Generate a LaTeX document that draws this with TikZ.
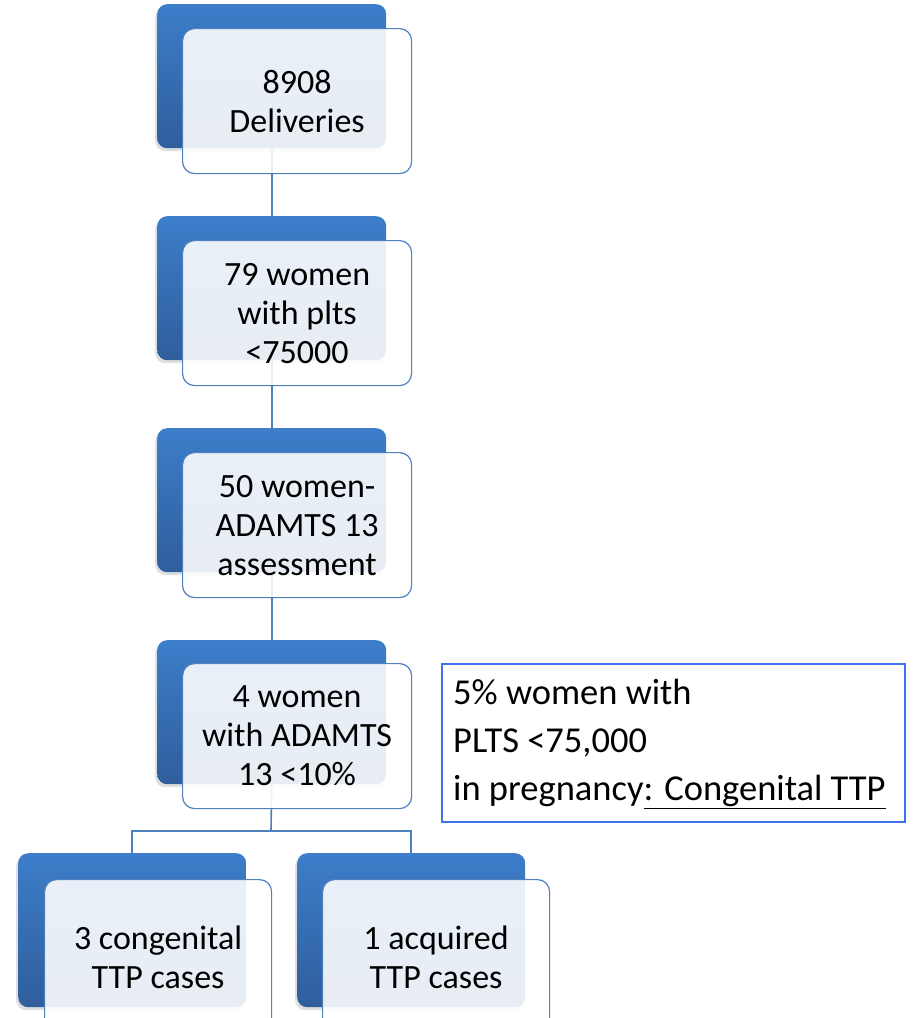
\documentclass[tikz,border=0pt]{standalone}
\usepackage{fontspec}
\setmainfont{Carlito}
\usetikzlibrary{shadows}
\definecolor{btop}{HTML}{3D7DCA}
\definecolor{bbot}{HTML}{2F5E9C}
\definecolor{edge}{HTML}{4F81BD}
\definecolor{boxblue}{HTML}{4271EE}
\begin{document}
\begin{tikzpicture}[x=1pt,y=-1pt,
  back/.style={rounded corners=10pt, top color=btop, bottom color=bbot, draw=none,
    minimum width=229pt, minimum height=144pt, anchor=north west, inner sep=0pt,
    drop shadow={shadow xshift=-2pt, shadow yshift=-3pt, opacity=0.25}},
  tallback/.style={back, minimum width=228pt, minimum height=154pt},
  card/.style={rounded corners=12pt, draw=edge, line width=1.2pt, fill=white,
    fill opacity=0.89, text opacity=1, minimum width=229pt, minimum height=145pt,
    anchor=north west, inner sep=0pt, align=center,
    font=\fontsize{34}{39}\selectfont},
  tallcard/.style={card, minimum width=227pt, minimum height=156pt},
  link/.style={draw=edge, line width=1.6pt},
  notebox/.style={draw=boxblue, line width=1.8pt, minimum width=463pt, minimum height=158pt,
    anchor=north west, inner sep=0pt},
  notetext/.style={anchor=west, inner sep=0pt, align=left,
    font=\fontsize{36.5}{48}\selectfont}]
\clip (0,0) rectangle (913,1018);
\fill[white] (0,0) rectangle (913,1018);
% back (blue) boxes
\node[back] (b1) at (157,4) {};
\node[back] (b2) at (157,216) {};
\node[back] (b3) at (157,428) {};
\node[back] (b4) at (157,640) {};
\node[tallback] (b5) at (18,853) {};
\node[tallback] (b6) at (297,853) {};
% connectors
\coordinate (j) at (271,831);
\draw[link] (b1.south) -- (b2.north);
\draw[link] (b2.south) -- (b3.north);
\draw[link] (b3.south) -- (b4.north);
\draw[link] (b4.south) -- (j);
\draw[link] (j) -| (b5.north);
\draw[link] (j) -| (b6.north);
% front cards
\node[card] (c1) at (182,28) {8908\\Deliveries};
\node[card] (c2) at (182,240) {79 women\\with plts\\<75000};
\node[card] (c3) at (182,452) {50 women-\\ADAMTS 13\\assessment};
\node[card] (c4) at (182,663) {4 women\\with ADAMTS\\13 <10\%};
\node[tallcard] (c5) at (44,879) {3 congenital\\TTP cases};
\node[tallcard] (c6) at (322,879) {1 acquired\\TTP cases};
% note box
\node[notebox] (nb) at (441,663) {};
\node[notetext] (n) at ([xshift=12pt,yshift=-1pt]nb.west) {5\% women with\\PLTS <75,000\\in pregnancy\underline{: Congenital TTP}};
\end{tikzpicture}
\end{document}
